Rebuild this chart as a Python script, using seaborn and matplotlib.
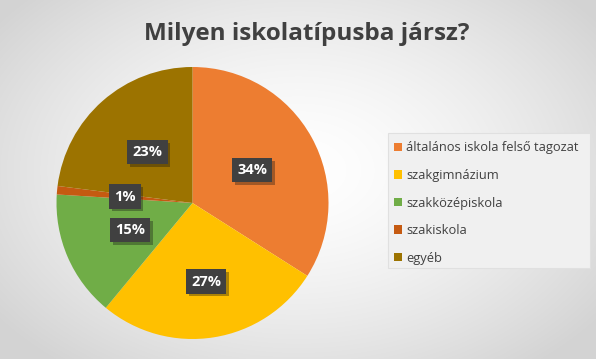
import numpy as np
import matplotlib.pyplot as plt
import matplotlib.patheffects as pe
from matplotlib.patches import Rectangle
import seaborn as sns

# -----------------------------
# Adatok
# -----------------------------
categories = ['általános iskola felső tagozat', 'szakgimnázium', 'szakközépiskola', 'szakiskola', 'egyéb']
shares = [34, 27, 15, 1, 23]
colors = ['#ED7D31', '#FFC000', '#70AD47', '#C55A11', '#9C7300']
title = 'Milyen iskolatípusba jársz?'

sns.set_theme(style='white')
plt.rcParams['font.family'] = ['Open Sans', 'DejaVu Sans']

W, H = 596, 359
fig = plt.figure(figsize=(W / 100, H / 100), dpi=100)

# háttér: radiális átmenet
bg = fig.add_axes([0, 0, 1, 1], zorder=0)
yy, xx = np.mgrid[0:H, 0:W]
d = np.sqrt(((xx - 298) / 298.0) ** 2 + ((yy - 170) / 200.0) ** 2)
shade = 1.0 - 0.17 * np.clip(d / 1.25, 0, 1) ** 1.5
bg.imshow(np.dstack([shade] * 3), aspect='auto', extent=[0, 1, 0, 1])
bg.axis('off')

ax = fig.add_axes([(192.5 - 136) / W, (156 - 136) / H, 272 / W, 272 / H], zorder=1)
wedges, texts, autotexts = ax.pie(
    shares, colors=colors, startangle=90, counterclock=False,
    autopct='%d%%', pctdistance=0.5,
    wedgeprops=dict(linewidth=0),
    textprops=dict(color='white', fontsize=10.5, fontweight='bold'))
for t in autotexts:
    t.set_bbox(dict(boxstyle='square,pad=0.35', facecolor='#404040', edgecolor='none'))
    t.get_bbox_patch().set_path_effects([pe.withSimplePatchShadow(offset=(2, -2), alpha=0.35)])
# 27% címke kicsit kijjebb
x, y = autotexts[1].get_position()
autotexts[1].set_position((x * 1.3, y * 1.17))
ax.set_xlim(-1, 1)
ax.set_ylim(-1, 1)
ax.set_aspect('equal')

fig.text(0.515, 0.905, title, ha='center', va='center', fontsize=17.5, fontweight='bold', color='#404040')

# jelmagyarázat kerete
fig.patches.append(Rectangle((388 / W, 1 - 268 / H), 202 / W, 135 / H, transform=fig.transFigure,
                             facecolor='#f0f0f0', edgecolor='#e0e0e0', linewidth=0.8, zorder=1))
leg = fig.legend(wedges, categories, loc='center left', bbox_to_anchor=(394 / W, 1 - 203 / H),
                 frameon=False, fontsize=9.3, handlelength=0.62, handleheight=0.62,
                 labelspacing=1.13, handletextpad=0.3, borderpad=0, borderaxespad=0)
leg.set_zorder(3)
for t in leg.get_texts():
    t.set_color('#404040')

fig.savefig('out.png', dpi=100)
